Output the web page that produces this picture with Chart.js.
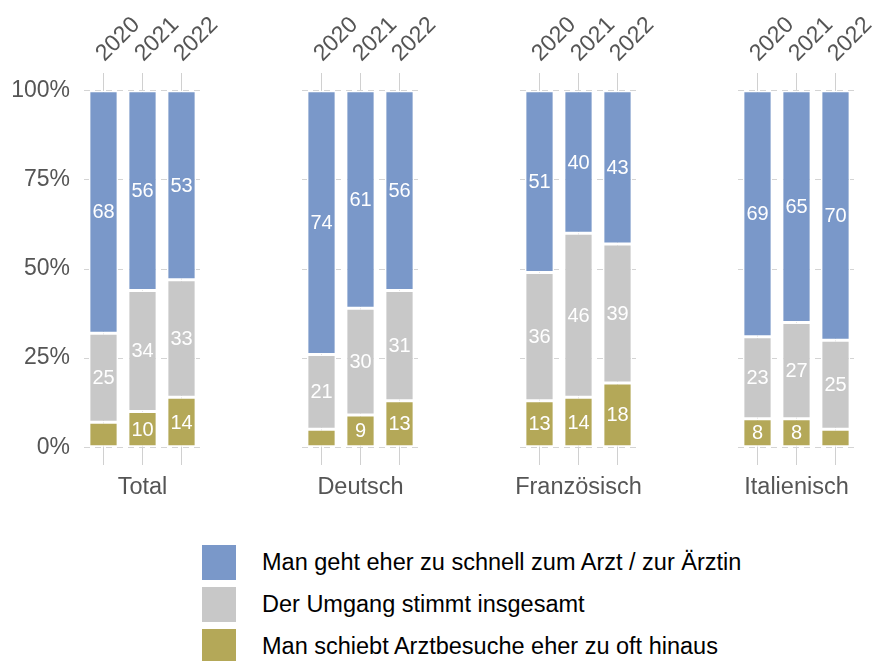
<!DOCTYPE html>
<html>
<head>
<meta charset="utf-8">
<title>Umgang mit Arztbesuchen</title>
<script src="https://cdn.jsdelivr.net/npm/chart.js"></script>
<style>
body{
  margin:0;
  background:#fff;
  width:873px;
  height:661px;
  overflow:hidden;
  position:relative;
  font-family:"Liberation Sans",Arial,Helvetica,sans-serif;
}
.facet{position:absolute;top:3px;height:502px;}
.legend{position:absolute;left:202px;top:545px;}
.item{display:flex;align-items:center;height:35px;margin-bottom:7px;}
.item .key{display:inline-block;width:34px;height:35px;margin-right:26px;}
.item .txt{font-size:23.5px;color:#000;white-space:nowrap;}
</style>
</head>
<body>

<div id="facets"></div>
<div class="legend" id="legend"></div>

<script>
// ================= DATA =================
const years = ["2020", "2021", "2022"];
const groups = ["Total", "Deutsch", "Französisch", "Italienisch"];
const seriesNames = [
  "Man geht eher zu schnell zum Arzt / zur Ärztin",
  "Der Umgang stimmt insgesamt",
  "Man schiebt Arztbesuche eher zu oft hinaus"
];
// one row per group, values for 2020, 2021, 2022 (in %)
const zuSchnell = [[68, 56, 53], [74, 61, 56], [51, 40, 43], [69, 65, 70]];
const stimmt    = [[25, 34, 33], [21, 30, 31], [36, 46, 39], [23, 27, 25]];
const zuOft     = [[7, 10, 14], [5, 9, 13], [13, 14, 18], [8, 8, 5]];
const yTicks = [0, 25, 50, 75, 100];

// ================= STYLE / LAYOUT =================
const colors = ["#7A98C9", "#C8C8C8", "#B4A858"];
const FONT = '"Liberation Sans", Arial, Helvetica, sans-serif';
const facetLeft  = [0, 240, 460, 680];
const facetWidth = [240, 220, 220, 193];
const areaLeft   = [84, 302, 520, 738];
const areaWidth  = 117;

// white numbers in the middle of each segment
const valueLabels = {
  id: "valueLabels",
  afterDatasetsDraw(chart) {
    const ctx = chart.ctx;
    ctx.save();
    ctx.font = "20px " + FONT;
    ctx.fillStyle = "#fff";
    ctx.textAlign = "center";
    ctx.textBaseline = "middle";
    chart.data.datasets.forEach((ds, i) => {
      chart.getDatasetMeta(i).data.forEach((bar, j) => {
        const v = ds.data[j];
        if (v < 8) return;
        const p = bar.getProps(["x", "y", "base"], true);
        ctx.fillText(String(v), p.x, (p.y + p.base) / 2 + 1);
      });
    });
    ctx.restore();
  }
};

// rotated year labels above the bars
const yearLabels = {
  id: "yearLabels",
  afterDraw(chart) {
    const sx = chart.scales.x;
    const ctx = chart.ctx;
    ctx.save();
    ctx.font = "23px " + FONT;
    ctx.fillStyle = "#555";
    ctx.textAlign = "left";
    ctx.textBaseline = "alphabetic";
    sx.ticks.forEach((t, i) => {
      const x = sx.getPixelForTick(i);
      ctx.save();
      ctx.translate(x + 1, sx.bottom - 11);
      ctx.rotate(-Math.PI / 4);
      ctx.fillText(sx.getLabelForValue(t.value), 0, 0);
      ctx.restore();
    });
    ctx.restore();
  }
};

// ================= FACETS =================
const wrap = document.getElementById("facets");

groups.forEach((g, k) => {
  const box = document.createElement("div");
  box.className = "facet";
  box.style.left = facetLeft[k] + "px";
  box.style.width = facetWidth[k] + "px";
  const cv = document.createElement("canvas");
  box.appendChild(cv);
  wrap.appendChild(box);

  const padRight = facetLeft[k] + facetWidth[k] - areaLeft[k] - areaWidth;
  const yWidth = areaLeft[k] - facetLeft[k];

  new Chart(cv, {
    type: "bar",
    data: {
      labels: years,
      datasets: [
        { label: seriesNames[2], data: zuOft[k],     backgroundColor: colors[2] },
        { label: seriesNames[1], data: stimmt[k],    backgroundColor: colors[1] },
        { label: seriesNames[0], data: zuSchnell[k], backgroundColor: colors[0] }
      ].map(d => Object.assign(d, {
        borderColor: "#fff",
        borderWidth: 1.5,
        borderSkipped: false,
        barPercentage: 0.75,
        categoryPercentage: 1
      }))
    },
    options: {
      responsive: true,
      maintainAspectRatio: false,
      animation: false,
      layout: { padding: { left: 0, right: padRight, top: 0, bottom: 0 } },
      plugins: { legend: { display: false }, tooltip: { enabled: false } },
      scales: {
        x: {
          position: "top",
          stacked: true,
          offset: true,
          grid: { color: "#d0d0d0", offset: false, drawTicks: false },
          border: { display: false },
          ticks: { display: false },
          afterFit(s) { s.height = 70; s.paddingLeft = 0; s.paddingRight = 0; }
        },
        x2: {
          type: "category",
          position: "bottom",
          labels: ["", g, ""],
          offset: true,
          grid: { display: false, drawTicks: false },
          border: { display: false },
          ticks: { color: "#555", font: { family: FONT, size: 23.5 }, padding: 8, maxRotation: 0, autoSkip: false },
          afterFit(s) { s.height = 40; s.paddingLeft = 0; s.paddingRight = 0; }
        },
        y: {
          stacked: true,
          min: -5,
          max: 105,
          grid: { color: "#d4d4d4", drawTicks: false },
          border: { display: false, dash: [6, 5] },
          ticks: {
            display: k === 0,
            color: "#555",
            padding: 14,
            font: { family: FONT, size: 23 },
            callback: v => v + "%"
          },
          afterBuildTicks(s) { s.ticks = yTicks.map(v => ({ value: v })); },
          afterFit(s) { s.width = yWidth; }
        }
      }
    },
    plugins: [valueLabels, yearLabels]
  });
});

// ================= LEGEND =================
const legend = document.getElementById("legend");
seriesNames.forEach((name, i) => {
  const it = document.createElement("div");
  it.className = "item";
  it.innerHTML = '<span class="key" style="background:' + colors[i] + '"></span><span class="txt"></span>';
  it.querySelector(".txt").textContent = name;
  legend.appendChild(it);
});
</script>

</body>
</html>
